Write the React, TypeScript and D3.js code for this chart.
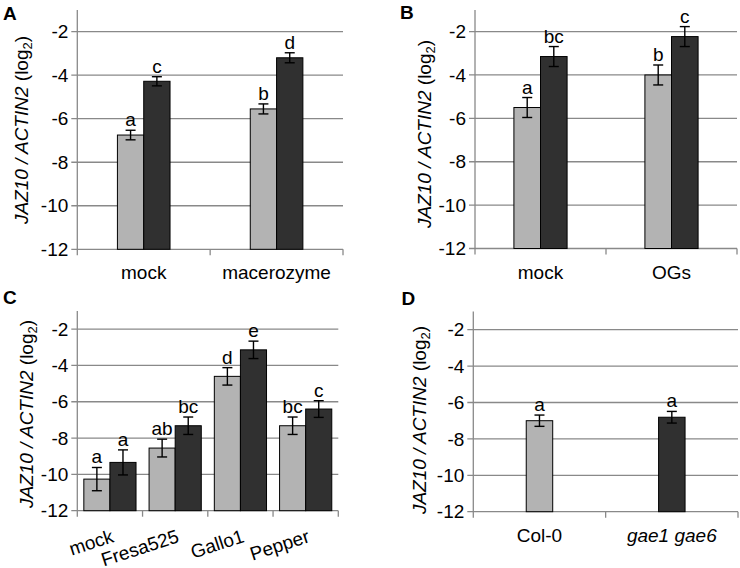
import React from 'react';
import * as d3 from 'd3';

// ---------- data ----------
const yTicks = [-12, -10, -8, -6, -4, -2];
const yDomain = [-12, -1];

const catsA = ['mock', 'macerozyme'];
const lightA = [-6.75, -5.55];
const lightErrA = [0.22, 0.23];
const darkA = [-4.28, -3.2];
const darkErrA = [0.21, 0.23];
const lightLetA = ['a', 'b'];
const darkLetA = ['c', 'd'];

const catsB = ['mock', 'OGs'];
const lightB = [-5.5, -4.0];
const lightErrB = [0.46, 0.46];
const darkB = [-3.15, -2.23];
const darkErrB = [0.46, 0.46];
const lightLetB = ['a', 'b'];
const darkLetB = ['bc', 'c'];

const catsC = ['mock', 'Fresa525', 'Gallo1', 'Pepper'];
const lightC = [-10.26, -8.55, -4.6, -7.32];
const lightErrC = [0.64, 0.49, 0.48, 0.48];
const darkC = [-9.34, -7.32, -3.14, -6.4];
const darkErrC = [0.69, 0.48, 0.48, 0.46];
const lightLetC = ['a', 'ab', 'd', 'bc'];
const darkLetC = ['a', 'bc', 'e', 'c'];

const catsD = ['Col-0', 'gae1 gae6'];
const valsD = [-7.0, -6.81];
const errD = [0.31, 0.32];
const letD = ['a', 'a'];

const LIGHT = '#b3b3b3';
const DARK = '#303030';
const GRID = '#898989';
const FONT = '"Liberation Sans", Arial, sans-serif';

type Series = { values: number[]; errs: number[]; letters: string[]; color: string | string[] };

type PanelProps = {
  letter: string;
  letterX: number;
  letterY: number;
  x0: number;
  x1: number;
  yTop: number;
  yBottom: number;
  cats: string[];
  series: Series[];
  barFrac: number;
  titleX: number;
  titleY: number;
  rotateLabels?: boolean;
  italicCats?: boolean[];
};

function Panel(p: PanelProps) {
  const x = d3.scaleBand<string>().domain(p.cats).range([p.x0, p.x1]).padding(0);
  const y = d3.scaleLinear().domain(yDomain).range([p.yBottom, p.yTop]);
  const bw = x.bandwidth() * p.barFrac;
  const n = p.series.length;
  const edges = [...p.cats.map((c) => x(c)!), p.x1];
  const fs = 19;
  return (
    <g fontFamily={FONT}>
      <text x={p.letterX} y={p.letterY} fontWeight="bold" fontSize={19} fill="#000">
        {p.letter}
      </text>
      {/* gridlines */}
      {yTicks.map((t) => (
        <line key={'g' + t} x1={p.x0 - 6} x2={p.x1} y1={y(t)} y2={y(t)} stroke={GRID} strokeWidth={1.3} />
      ))}
      {/* y axis */}
      <line x1={p.x0} x2={p.x0} y1={p.yTop} y2={p.yBottom} stroke={GRID} strokeWidth={1.3} />
      {/* x ticks */}
      {edges.map((e, i) => (
        <line key={'xt' + i} x1={e} x2={e} y1={p.yBottom} y2={p.yBottom + 6} stroke={GRID} strokeWidth={1.3} />
      ))}
      {yTicks.map((t) => (
        <text key={'yl' + t} x={p.x0 - 9} y={y(t)} dy="0.35em" textAnchor="end" fontSize={fs} fill="#000">
          {t}
        </text>
      ))}
      {/* bars */}
      {p.cats.map((c, ci) => {
        const cx = x(c)! + x.bandwidth() / 2;
        return p.series.map((s, si) => {
          const bx = cx - (n * bw) / 2 + si * bw;
          const v = s.values[ci];
          const e = s.errs[ci];
          const col = Array.isArray(s.color) ? s.color[ci] : s.color;
          const mx = bx + bw / 2;
          return (
            <g key={c + si}>
              <rect x={bx} y={y(v)} width={bw} height={p.yBottom - y(v)} fill={col} stroke="#000" strokeWidth={1} />
              <line x1={mx} x2={mx} y1={y(v + e)} y2={y(v - e)} stroke="#000" strokeWidth={1.4} />
              <line x1={mx - 5} x2={mx + 5} y1={y(v + e)} y2={y(v + e)} stroke="#000" strokeWidth={1.4} />
              <line x1={mx - 5} x2={mx + 5} y1={y(v - e)} y2={y(v - e)} stroke="#000" strokeWidth={1.4} />
              <text x={mx} y={y(v + e) - 4} textAnchor="middle" fontSize={fs} fill="#000">
                {s.letters[ci]}
              </text>
            </g>
          );
        });
      })}
      {/* category labels */}
      {p.cats.map((c, ci) => {
        const cx = x(c)! + x.bandwidth() / 2;
        if (p.rotateLabels) {
          const ax = cx + 5;
          const ay = p.yBottom + 31;
          return (
            <text key={'c' + c} x={ax} y={ay} textAnchor="end" fontSize={fs} transform={`rotate(-18 ${ax} ${ay})`}>
              {c}
            </text>
          );
        }
        return (
          <text
            key={'c' + c}
            x={cx}
            y={p.yBottom + 30}
            textAnchor="middle"
            fontSize={fs}
            fontStyle={p.italicCats && p.italicCats[ci] ? 'italic' : 'normal'}
          >
            {c}
          </text>
        );
      })}
      {/* y title */}
      <text transform={`translate(${p.titleX},${p.titleY}) rotate(-90)`} textAnchor="middle" fontSize={fs}>
        <tspan fontStyle="italic">JAZ10 / ACTIN2</tspan>
        <tspan> (log</tspan>
        <tspan fontSize={13} dy={4}>2</tspan>
        <tspan dy={-4}>)</tspan>
      </text>
    </g>
  );
}

export default function App() {
  return (
    <div style={{ position: 'absolute', left: 0, top: 0 }}>
      <svg width={740} height={568} style={{ display: 'block', background: '#fff' }}>
        <Panel
          letter="A"
          letterX={3}
          letterY={20}
          x0={77.3}
          x1={343}
          yTop={9.9}
          yBottom={249.3}
          cats={catsA}
          series={[
            { values: lightA, errs: lightErrA, letters: lightLetA, color: LIGHT },
            { values: darkA, errs: darkErrA, letters: darkLetA, color: DARK },
          ]}
          barFrac={0.198}
          titleX={28}
          titleY={130}
        />
        <Panel
          letter="B"
          letterX={400}
          letterY={18.5}
          x0={475}
          x1={737}
          yTop={9.9}
          yBottom={248.5}
          cats={catsB}
          series={[
            { values: lightB, errs: lightErrB, letters: lightLetB, color: LIGHT },
            { values: darkB, errs: darkErrB, letters: darkLetB, color: DARK },
          ]}
          barFrac={0.203}
          titleX={431}
          titleY={134}
        />
        <Panel
          letter="C"
          letterX={3}
          letterY={304}
          x0={77.3}
          x1={338.3}
          yTop={311}
          yBottom={510.7}
          cats={catsC}
          series={[
            { values: lightC, errs: lightErrC, letters: lightLetC, color: LIGHT },
            { values: darkC, errs: darkErrC, letters: darkLetC, color: DARK },
          ]}
          barFrac={0.4}
          titleX={33}
          titleY={414}
          rotateLabels
        />
        <Panel
          letter="D"
          letterX={401.5}
          letterY={305}
          x0={473.3}
          x1={738}
          yTop={311.5}
          yBottom={511.7}
          cats={catsD}
          series={[{ values: valsD, errs: errD, letters: letD, color: [LIGHT, DARK] }]}
          barFrac={0.2}
          titleX={426}
          titleY={420}
          italicCats={[false, true]}
        />
      </svg>
    </div>
  );
}
